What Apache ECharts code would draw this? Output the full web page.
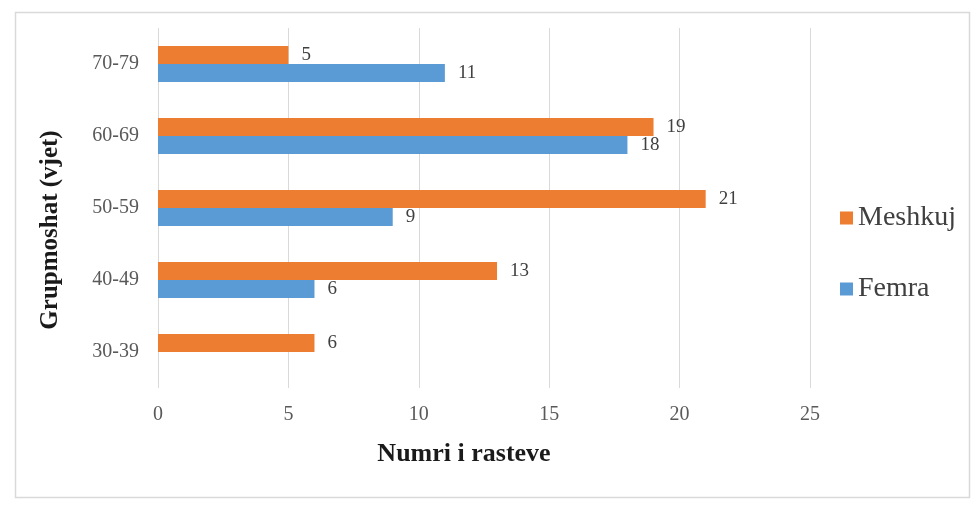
<!DOCTYPE html>
<html>
<head>
<meta charset="utf-8">
<script src="https://cdn.jsdelivr.net/npm/echarts@6/dist/echarts.min.js"></script>
<style>
html,body{margin:0;padding:0;background:#fff;}
#chart{width:980px;height:505px;}
</style>
</head>
<body>
<div id="chart"></div>
<script>
const categories = ['30-39', '40-49', '50-59', '60-69', '70-79'];
const meshkuj = [6, 13, 21, 19, 5];
const femra = [null, 6, 9, 18, 11];
const xTicks = [0, 5, 10, 15, 20, 25];

const chart = echarts.init(document.getElementById('chart'));
const serif = '"Liberation Serif", "DejaVu Serif", serif';
const labelStyle = {
  show: true, position: 'right', distance: 13,
  fontFamily: serif, fontSize: 19, color: '#404040'
};
chart.setOption({
  animation: false,
  backgroundColor: '#ffffff',
  graphic: [{
    type: 'rect', left: 13, top: 10,
    shape: { width: 954, height: 485 },
    style: { fill: 'none', stroke: '#d9d9d9', lineWidth: 1.5 },
    silent: true
  }],
  legend: {
    orient: 'vertical', left: 835, top: 199, itemGap: 43,
    itemWidth: 13, itemHeight: 13, icon: 'rect',
    textStyle: { fontFamily: serif, fontSize: 28, color: '#404040' },
    data: ['Meshkuj', 'Femra']
  },
  grid: { left: 158, right: 170, top: 28, bottom: 117 },
  xAxis: {
    type: 'value', min: xTicks[0], max: xTicks[xTicks.length - 1], interval: 5,
    name: 'Numri i rasteve', nameLocation: 'middle', nameGap: 53,
    nameTextStyle: { fontFamily: serif, fontSize: 26, fontWeight: 'bold', color: '#1a1a1a', padding: [0, 40, 0, 0] },
    axisLine: { show: false }, axisTick: { show: false },
    axisLabel: { fontFamily: serif, fontSize: 20, color: '#595959', margin: 17 },
    splitLine: { lineStyle: { color: '#d9d9d9', width: 1 } }
  },
  yAxis: {
    type: 'category', data: categories,
    name: 'Grupmoshat (vjet)', nameLocation: 'middle', nameGap: 95,
    nameTextStyle: { fontFamily: serif, fontSize: 25, fontWeight: 'bold', color: '#1a1a1a', padding: [0, 44, 0, 0] },
    axisLine: { show: false }, axisTick: { show: false },
    axisLabel: { fontFamily: serif, fontSize: 20, color: '#595959', margin: 19 }
  },
  series: [
    {
      name: 'Meshkuj', type: 'bar', data: meshkuj, barWidth: 18, barGap: '0%',
      itemStyle: { color: '#ED7D31' }, label: labelStyle
    },
    {
      name: 'Femra', type: 'bar', data: femra, barWidth: 18, barGap: '0%',
      itemStyle: { color: '#5B9BD5' }, label: labelStyle
    }
  ]
});
</script>
</body>
</html>
